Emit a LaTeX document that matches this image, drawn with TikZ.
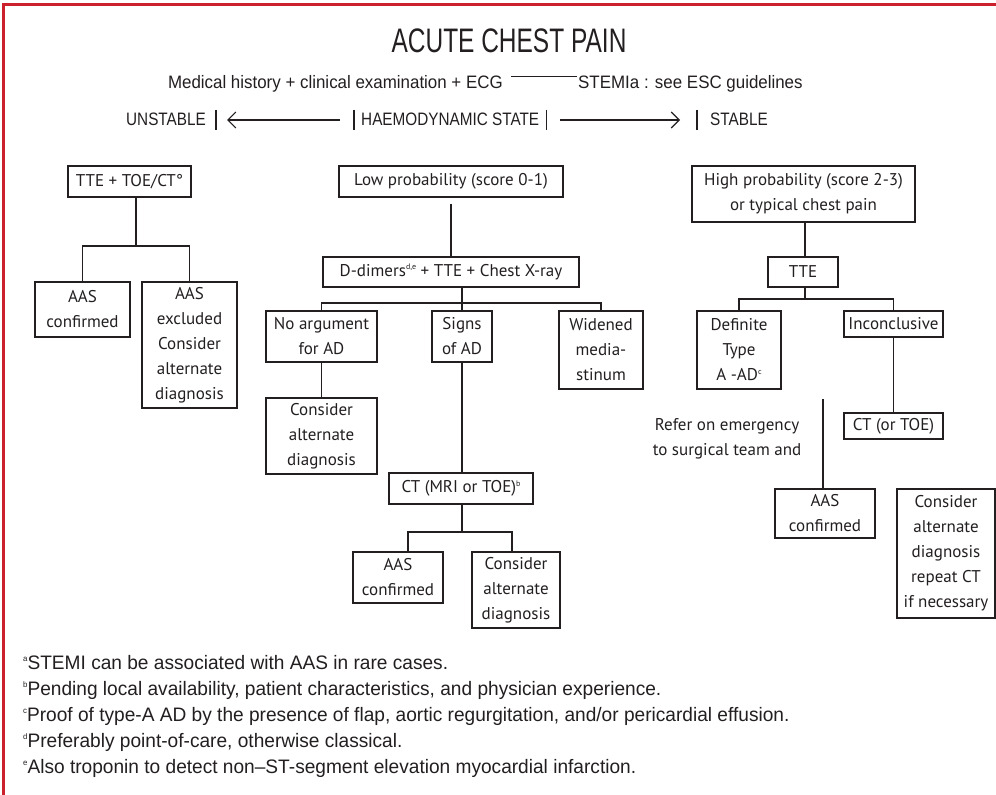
\documentclass[tikz,border=0pt]{standalone}
\usepackage{fontspec}
\setmainfont{PT Sans}
\newfontfamily\condfont[FakeStretch=0.94]{Liberation Sans}
\newfontfamily\narrowfont[FakeStretch=0.85]{Liberation Sans}
\newfontfamily\notefont[FakeStretch=0.98]{Liberation Sans}
\newfontfamily\titlefont[FakeStretch=0.72]{Liberation Sans}
\usetikzlibrary{arrows.meta}
\definecolor{framered}{RGB}{204,32,44}
\definecolor{ink}{RGB}{35,31,32}
\newcommand{\supm}[1]{\raisebox{0.75ex}{\fontsize{8}{8}\selectfont #1}}

\begin{document}
\begin{tikzpicture}
[x=1pt, y=-1pt, font=\fontsize{17}{25}\selectfont, color=ink]
\tikzstyle{box}=[draw, line width=1.1pt, align=center, inner sep=1pt]
\tikzstyle{head}=[inner sep=0pt, font=\condfont\fontsize{18}{22}\selectfont]
\tikzstyle{state}=[inner sep=0pt, text height=15pt, text depth=5pt, font=\narrowfont\fontsize{18}{22}\selectfont]
\tikzstyle{note}=[inner sep=0pt, anchor=base west, font=\notefont\fontsize{19.5}{22}\selectfont]
\tikzstyle{link}=[line width=1.1pt]
\tikzstyle{arr}=[link, -{Straight Barb[length=8pt, width=16pt]}]

\useasboundingbox (0,0) rectangle (996,795);
\draw [framered, line width=3pt] (3,795) -- (3,4) -- (996,4);

\node[inner sep=0pt, anchor=base, font=\titlefont\fontsize{34}{40}\selectfont] (title) at (509,52) {ACUTE CHEST PAIN};

\node[head, anchor=base east]	(hist)	at (503,88)	{Medical history + clinical examination + ECG};
\node[head, anchor=base west]	(stemi)	at (578,88)	{STEMIa : see ESC guidelines};
\draw [link, shorten <=8pt, shorten >=1pt] ([yshift=-2pt]hist.north east) -- ([yshift=-2pt]stemi.north west);

\node[state, anchor=base east, inner xsep=10pt]	(unstable)	at (216,125)	{UNSTABLE};
\node[state, anchor=base west, inner xsep=7pt]	(haemo)	at (354,125)	{HAEMODYNAMIC STATE};
\node[state, anchor=base west, inner xsep=13pt]	(stable)	at (697,125)	{STABLE};
\draw [link] (unstable.north east) -- (unstable.south east);
\draw [link] (haemo.north west) -- (haemo.south west);
\draw [link] (haemo.north east) -- (haemo.south east);
\draw [link] (stable.north west) -- (stable.south west);
\draw [arr, shorten <=14pt, shorten >=11pt] (haemo.west) -- (unstable.east);
\draw [arr, shorten <=14pt, shorten >=17pt] (haemo.east) -- (stable.west);

\node[box, minimum width=123pt, minimum height=31pt]	(tteCT)	at (129.5,181.5)	{TTE + TOE/CT°};
\node[box, minimum width=95pt, minimum height=55pt]	(aasA)	at (82.5,309.5)	{AAS\\confirmed};
\node[box, minimum width=95pt, minimum height=126pt]	(aasX)	at (189.5,345)	{AAS\\excluded\\Consider\\alternate\\diagnosis};

\node[box, minimum width=224pt, minimum height=31pt]	(lowP)	at (451,181.5)	{Low probability (score 0-1)};
\node[box, minimum width=256pt, minimum height=30pt]	(ddim)	at (451,272)	{D-dimers\supm{d,e} + TTE + Chest X-ray};
\node[box, minimum width=111pt, minimum height=51pt]	(noArg)	at (321.5,336.5)	{No argument\\for AD};
\node[box, minimum width=60pt, minimum height=51pt]	(signs)	at (462,336.5)	{Signs\\of AD};
\node[box, minimum width=84pt, minimum height=78pt]	(widened)	at (601,350)	{Widened\\media-\\stinum};
\node[box, minimum width=111pt, minimum height=76pt]	(consA)	at (321.5,436)	{Consider\\alternate\\diagnosis};
\node[box, minimum width=144pt, minimum height=31pt]	(ctMRI)	at (461,488.5)	{CT (MRI or TOE)\supm{b}};
\node[box, minimum width=90pt, minimum height=51pt]	(aasB)	at (398,577.5)	{AAS\\confirmed};
\node[box, minimum width=88pt, minimum height=76pt]	(consB)	at (516,590)	{Consider\\alternate\\diagnosis};

\node[box, minimum width=223pt, minimum height=56pt]	(highP)	at (803.5,194)	{High probability (score 2-3)\\or typical chest pain};
\node[box, minimum width=70pt, minimum height=30pt]	(tteR)	at (803,272)	{TTE};
\node[box, minimum width=84pt, minimum height=78pt]	(defA)	at (739,350)	{Definite\\Type\\A -AD\supm{c}};
\node[box, minimum width=99pt, minimum height=26pt]	(incl)	at (893.5,324)	{Inconclusive};
\node[box, minimum width=99pt, minimum height=26pt]	(ctTOE)	at (893.5,426)	{CT (or TOE)};
\node[align=center, inner sep=0pt]	(refer)	at (727,439)	{Refer on emergency\\to surgical team and};
\node[box, minimum width=100pt, minimum height=49pt]	(aasC)	at (825,513.5)	{AAS\\confirmed};
\node[box, minimum width=98pt, minimum height=129pt]	(consC)	at (946,553.5)	{Consider\\alternate\\diagnosis\\repeat CT\\if necessary};

\coordinate (jL) at (136,246);
\coordinate (jM) at (462,303);
\coordinate (jB1) at (408,532);
\coordinate (jB2) at (512,532);
\coordinate (jR) at (805,299);
\coordinate (rf) at (823,399);

\draw [link] (tteCT.south -| jL) -- (jL);
\draw [link] (aasA.north) |- (jL) -| (aasX.north);

\draw [link, shorten <=6pt] (lowP.south) -- (ddim.north);
\draw [link] (ddim.south -| jM) -- (jM);
\draw [link] (noArg.north) |- (jM) -| (widened.north);
\draw [link] (jM) -- (signs.north);
\draw [link] (noArg.south) -- (consA.north);
\draw [link] (signs.south) -- (signs.south |- ctMRI.north);
\draw [link] (ctMRI.south -| jM) -- (jM |- jB1);
\draw [link] (jB1 |- aasB.north) -- (jB1) -- (jB2) -- (jB2 |- consB.north);

\draw [link] (highP.south -| jR) -- (tteR.north -| jR);
\draw [link] (tteR.south -| jR) -- (jR);
\draw [link] (defA.north) |- (jR) -| (incl.north);
\draw [link] (incl.south) -- (ctTOE.north);
\draw [link] (rf) -- (rf |- aasC.north);

\node[note]	(fa)	at (23,669)	{\supm{a}STEMI can be associated with AAS in rare cases.};
\node[note]	(fb)	at (23,695)	{\supm{b}Pending local availability, patient characteristics, and physician experience.};
\node[note]	(fc)	at (23,721)	{\supm{c}Proof of type-A AD by the presence of flap, aortic regurgitation, and/or pericardial effusion.};
\node[note]	(fd)	at (23,747)	{\supm{d}Preferably point-of-care, otherwise classical.};
\node[note]	(fe)	at (23,773)	{\supm{e}Also troponin to detect non–ST-segment elevation myocardial infarction.};

\end{tikzpicture}
\end{document}
